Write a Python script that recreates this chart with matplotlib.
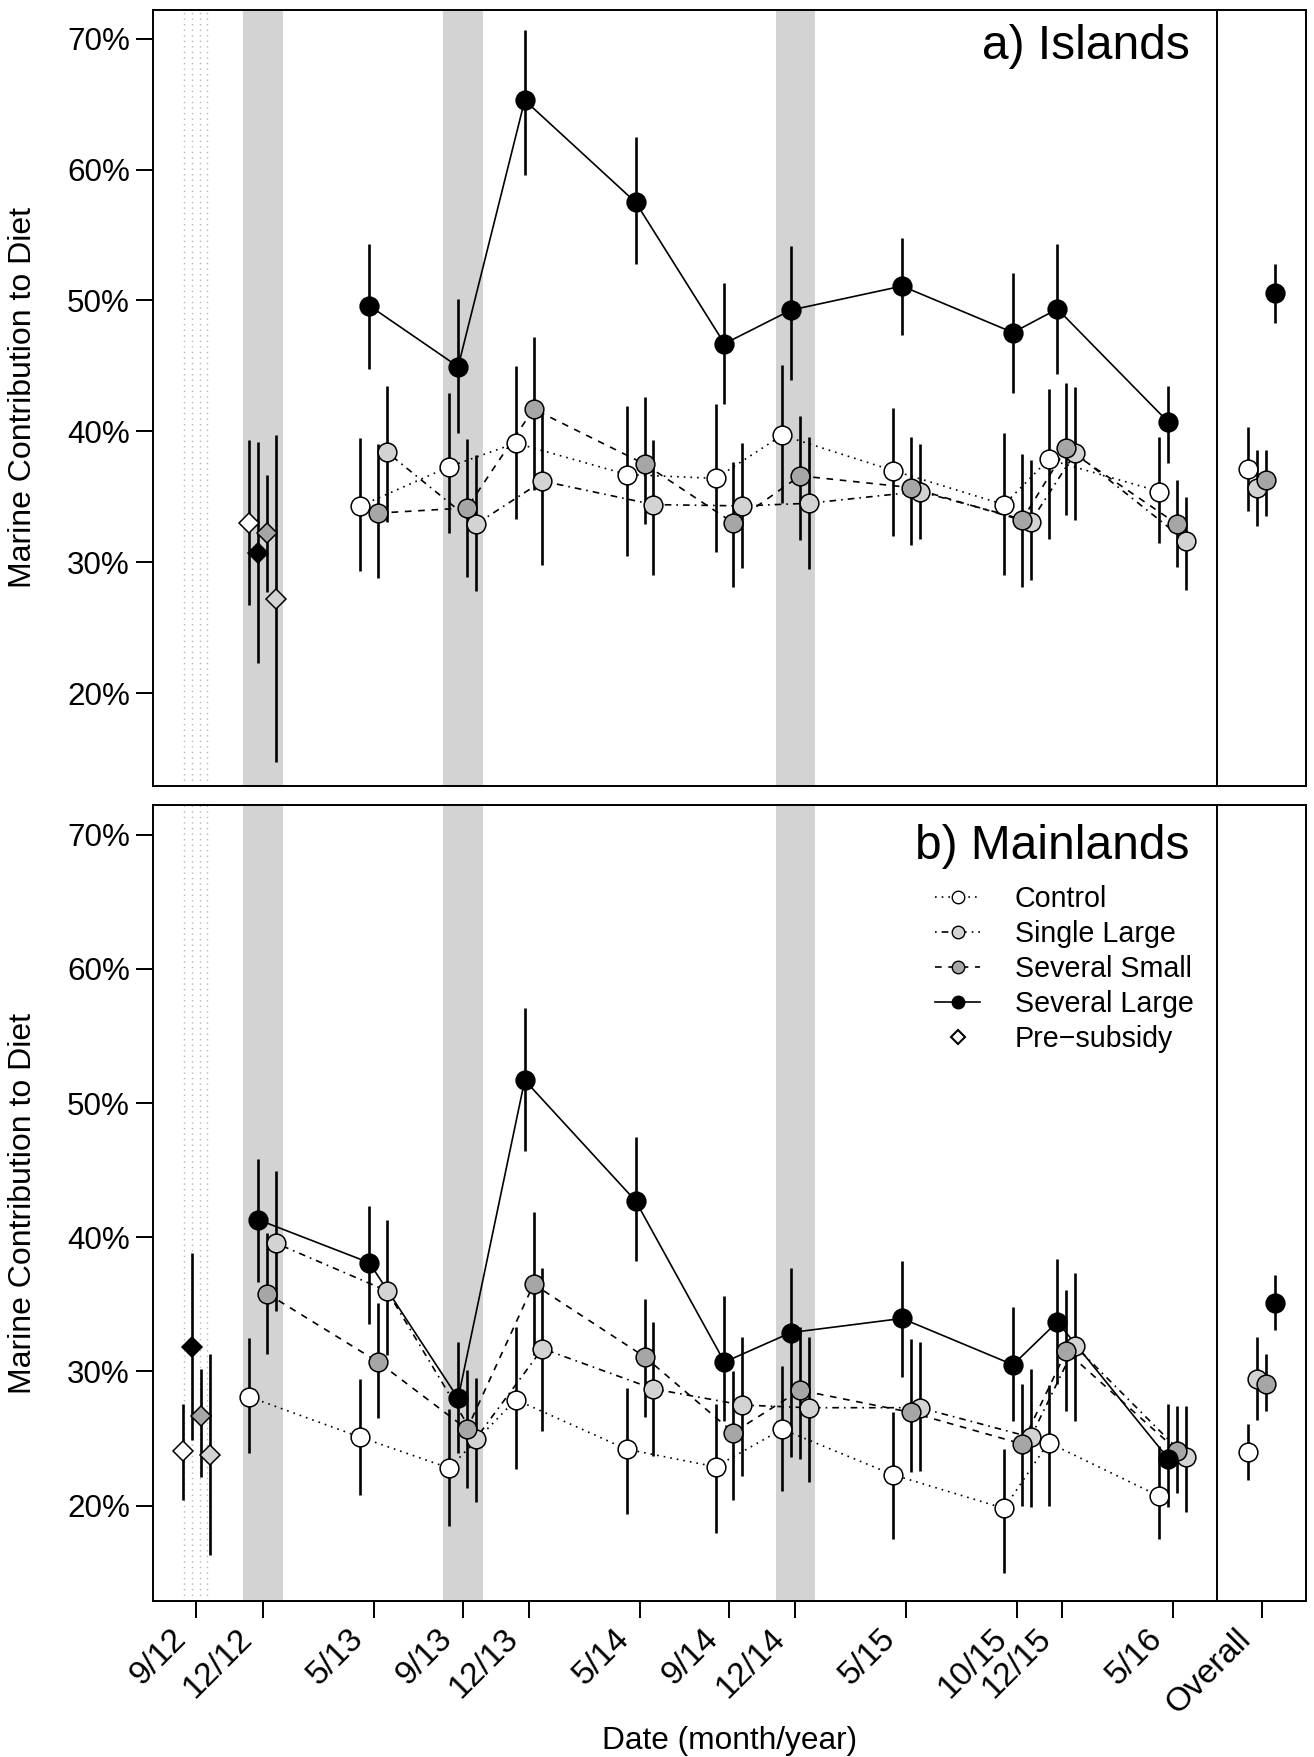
import matplotlib
matplotlib.use('Agg')
import matplotlib.pyplot as plt
from matplotlib.lines import Line2D
from matplotlib.transforms import ScaledTranslation

plt.rcParams['font.family'] = ['Liberation Sans', 'DejaVu Sans']

# sampling dates, in months since 9/12
date_labels = ['9/12', '12/12', '5/13', '9/13', '12/13', '5/14', '9/14', '12/14',
               '5/15', '10/15', '12/15', '5/16']
date_month = [0, 3, 8, 12, 15, 20, 24, 27, 32, 37, 39, 44]
overall_x = 48
sep_x = 46
shade_spans = [(2.1, 3.9), (11.1, 12.9), (26.1, 27.9)]
presub_lines = [-0.54, -0.2, 0.15, 0.48]

# ---- a) Islands: 5/13 .. 5/16 ----
isl_ctrl = [34.3, 37.3, 39.1, 36.7, 36.4, 39.7, 37.0, 34.4, 37.85, 35.4]
isl_ctrl_lo = [29.35, 32.2, 33.3, 30.5, 30.8, 34.5, 32.0, 29.0, 31.8, 31.5]
isl_ctrl_hi = [39.5, 42.9, 45.0, 41.9, 42.1, 45.05, 41.75, 39.9, 43.2, 39.6]
isl_sgl = [38.4, 32.9, 36.2, 34.4, 34.3, 34.5, 35.4, 33.1, 38.35, 31.6]
isl_sgl_lo = [33.05, 27.8, 29.8, 29.0, 29.55, 29.5, 31.8, 28.6, 33.2, 27.9]
isl_sgl_hi = [43.5, 38.2, 41.7, 39.3, 39.1, 39.6, 39.0, 37.8, 43.4, 35.0]
isl_ss = [33.75, 34.15, 41.7, 37.5, 33.0, 36.6, 35.7, 33.2, 38.7, 32.9]
isl_ss_lo = [28.8, 28.9, 35.5, 32.9, 28.1, 31.7, 31.3, 28.1, 33.6, 29.6]
isl_ss_hi = [39.0, 39.4, 47.2, 42.6, 37.65, 41.2, 39.6, 38.3, 43.7, 36.3]
isl_sl = [49.6, 44.94, 65.3, 57.5, 46.7, 49.27, 51.1, 47.55, 49.35, 40.7]
isl_sl_lo = [44.75, 39.9, 59.6, 52.8, 42.06, 43.9, 47.4, 42.9, 44.4, 37.6]
isl_sl_hi = [54.3, 50.1, 70.7, 62.5, 51.3, 54.2, 54.8, 52.1, 54.3, 43.5]
# pre-subsidy at 12/12: control, several large, several small, single large
isl_pre = [33.0, 30.7, 32.2, 27.2]
isl_pre_lo = [26.7, 22.3, 27.7, 14.7]
isl_pre_hi = [39.3, 39.2, 36.7, 39.7]
# overall: control, single large, several small, several large
isl_all = [37.1, 35.7, 36.3, 50.6]
isl_all_lo = [33.9, 32.8, 33.5, 48.25]
isl_all_hi = [40.3, 38.6, 38.6, 52.8]

# ---- b) Mainlands: 12/12 .. 5/16 ----
mn_ctrl = [28.1, 25.1, 22.8, 27.9, 24.2, 22.9, 25.7, 22.3, 19.8, 24.7, 20.7]
mn_ctrl_lo = [23.9, 20.8, 18.5, 22.7, 19.4, 18.0, 21.1, 17.5, 15.0, 20.0, 17.5]
mn_ctrl_hi = [32.5, 29.45, 27.2, 33.3, 28.8, 27.6, 30.4, 27.0, 24.2, 29.0, 24.45]
mn_sgl = [39.55, 36.0, 25.0, 31.7, 28.7, 27.5, 27.3, 27.3, 25.1, 31.9, 23.6]
mn_sgl_lo = [34.5, 31.2, 20.3, 25.6, 23.7, 22.2, 21.8, 22.6, 19.9, 26.3, 19.5]
mn_sgl_hi = [44.9, 41.3, 29.5, 37.7, 33.7, 32.6, 32.6, 32.2, 30.2, 37.3, 27.4]
mn_ss = [35.8, 30.7, 25.7, 36.5, 31.1, 25.45, 28.6, 26.95, 24.6, 31.5, 24.1]
mn_ss_lo = [31.3, 26.5, 21.3, 31.2, 26.6, 20.45, 23.5, 22.5, 20.0, 27.05, 20.95]
mn_ss_hi = [40.3, 35.1, 30.1, 41.9, 35.4, 30.0, 33.3, 32.4, 29.1, 36.1, 27.4]
mn_sl = [41.3, 38.1, 28.0, 51.7, 42.7, 30.7, 32.9, 33.95, 30.5, 33.7, 23.5]
mn_sl_lo = [36.7, 33.5, 23.9, 46.4, 38.2, 26.3, 23.6, 29.6, 26.3, 29.1, 19.9]
mn_sl_hi = [45.8, 42.3, 32.2, 57.05, 47.5, 35.6, 37.7, 38.2, 34.8, 38.4, 27.6]
# pre-subsidy at 9/12
mn_pre = [24.1, 31.8, 26.7, 23.8]
mn_pre_lo = [20.45, 24.9, 22.1, 16.3]
mn_pre_hi = [27.6, 38.8, 30.2, 31.3]
mn_all = [24.0, 29.45, 29.1, 35.1]
mn_all_lo = [21.9, 26.4, 27.05, 33.1]
mn_all_hi = [26.05, 32.55, 31.3, 37.2]

# treatment styles: fill, line dashes, offset within a date
WHITE, LIGHT, DARK, BLACK = 'white', '#d3d3d3', '#a6a6a6', 'black'
ctrl_st = dict(fc=WHITE, ls=(0, (1, 3)), off=-0.6)
sl_st = dict(fc=BLACK, ls='-', off=-0.2)
ss_st = dict(fc=DARK, ls=(0, (4, 4)), off=0.2)
sgl_st = dict(fc=LIGHT, ls=(0, (1, 3, 4, 3)), off=0.6)
pre_fill = [WHITE, BLACK, DARK, LIGHT]
pre_off = [-0.6, -0.2, 0.2, 0.6]
all_fill = [WHITE, LIGHT, DARK, BLACK]

MS = 13.5
EW = 1.9


def series(ax, months, mean, lo, hi, st):
    xs = [m + st['off'] for m in months]
    ax.plot(xs, mean, color='black', lw=1.2, ls=st['ls'], zorder=2)
    ax.vlines(xs, lo, hi, color='black', lw=EW, zorder=3)
    ax.plot(xs, mean, 'o', ms=MS, mfc=st['fc'], mec='black', mew=1.1, zorder=4)


def singles(ax, x0, offs, fills, mean, lo, hi, marker):
    for o, fc, m, l, h in zip(offs, fills, mean, lo, hi):
        ax.vlines(x0 + o, l, h, color='black', lw=EW, zorder=3)
        ax.plot(x0 + o, m, marker, ms=MS if marker == 'o' else 10, mfc=fc,
                mec='black', mew=1.1, zorder=4)


def base(ax):
    for a, b in shade_spans:
        ax.axvspan(a, b, color='#d3d3d3', lw=0, zorder=0)
    for x in presub_lines:
        ax.axvline(x, color='#b5b5b5', lw=1.0, ls=(0, (1, 3)), zorder=1)
    ax.axvline(sep_x, color='black', lw=1.4, zorder=1)
    ax.set_xlim(-1.95, 50)
    ax.set_ylim(12.9, 72.2)
    yt = [20, 30, 40, 50, 60, 70]
    ax.set_yticks(yt)
    ax.set_yticklabels([f'{v}%' for v in yt], fontsize=22.6)
    ax.tick_params(axis='both', length=12.5, width=1.4, pad=4)
    for s in ax.spines.values():
        s.set_linewidth(1.4)
    ax.set_ylabel('Marine Contribution to Diet', fontsize=23)
    ax.yaxis.set_label_coords(-0.10, 0.5)


fig = plt.figure(figsize=(13.14, 17.57), dpi=100)
ax1 = fig.add_axes([0.1164, 0.5527, 0.8775, 0.4416])
ax2 = fig.add_axes([0.1164, 0.0888, 0.8775, 0.4530])

# top panel
base(ax1)
isl_months = date_month[2:]
series(ax1, isl_months, isl_ctrl, isl_ctrl_lo, isl_ctrl_hi, ctrl_st)
series(ax1, isl_months, isl_sgl, isl_sgl_lo, isl_sgl_hi, sgl_st)
series(ax1, isl_months, isl_ss, isl_ss_lo, isl_ss_hi, ss_st)
series(ax1, isl_months, isl_sl, isl_sl_lo, isl_sl_hi, sl_st)
singles(ax1, date_month[1], pre_off, pre_fill, isl_pre, isl_pre_lo, isl_pre_hi, 'D')
singles(ax1, overall_x, pre_off, all_fill, isl_all, isl_all_lo, isl_all_hi, 'o')
ax1.set_xticks([])
ax1.text(0.899, 0.982, 'a) Islands', transform=ax1.transAxes, ha='right', va='top',
         fontsize=34.5)

# bottom panel
base(ax2)
mn_months = date_month[1:]
series(ax2, mn_months, mn_ctrl, mn_ctrl_lo, mn_ctrl_hi, ctrl_st)
series(ax2, mn_months, mn_sgl, mn_sgl_lo, mn_sgl_hi, sgl_st)
series(ax2, mn_months, mn_ss, mn_ss_lo, mn_ss_hi, ss_st)
series(ax2, mn_months, mn_sl, mn_sl_lo, mn_sl_hi, sl_st)
singles(ax2, date_month[0], pre_off, pre_fill, mn_pre, mn_pre_lo, mn_pre_hi, 'D')
singles(ax2, overall_x, pre_off, all_fill, mn_all, mn_all_lo, mn_all_hi, 'o')
ax2.set_xticks(date_month + [overall_x])
ax2.set_xticklabels(date_labels + ['Overall'], rotation=45, ha='right',
                    rotation_mode='anchor', fontsize=24)
# nudge the slanted labels left so they end just under their ticks
shift = ScaledTranslation(-19 / 72, 0.5 / 72, fig.dpi_scale_trans)
for lab in ax2.get_xticklabels():
    lab.set_transform(lab.get_transform() + shift)
ax2.set_xlabel('Date (month/year)', fontsize=22.8)
ax2.xaxis.set_label_coords(0.5, -0.157)
ax2.text(0.899, 0.976, 'b) Mainlands', transform=ax2.transAxes, ha='right', va='top',
         fontsize=34.5)

handles = [
    Line2D([], [], color='black', lw=1.2, ls=ctrl_st['ls'], marker='o', ms=9, mfc=WHITE, mec='black'),
    Line2D([], [], color='black', lw=1.2, ls=sgl_st['ls'], marker='o', ms=9, mfc=LIGHT, mec='black'),
    Line2D([], [], color='black', lw=1.2, ls=ss_st['ls'], marker='o', ms=9, mfc=DARK, mec='black'),
    Line2D([], [], color='black', lw=1.2, ls='-', marker='o', ms=9, mfc=BLACK, mec='black'),
    Line2D([], [], ls='none', marker='D', ms=7, mfc=WHITE, mec='black', mew=1.5),
]
labels = ['Control', 'Single Large', 'Several Small', 'Several Large', 'Pre\u2212subsidy']
ax2.legend(handles, labels, loc='upper left', bbox_to_anchor=(0.678, 0.899),
           frameon=False, fontsize=20.6, handlelength=1.6, handletextpad=1.2,
           labelspacing=0.24, borderpad=0, borderaxespad=0)

fig.savefig('out.png', dpi=100)
